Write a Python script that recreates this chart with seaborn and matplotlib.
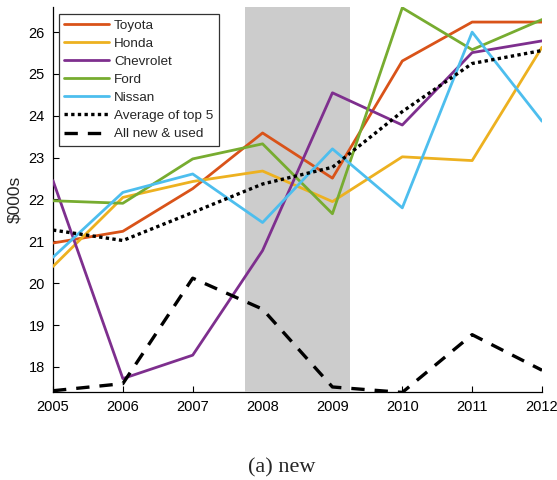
import matplotlib
matplotlib.use("Agg")
import matplotlib.pyplot as plt
import seaborn as sns
import pandas as pd

years = [2005, 2006, 2007, 2008, 2009, 2010, 2011, 2012]
toyota = [20.96, 21.24, 22.26, 23.59, 22.51, 25.31, 26.24, 26.24]
honda = [20.40, 22.05, 22.43, 22.68, 21.95, 23.02, 22.93, 25.64]
chevrolet = [22.45, 17.72, 18.28, 20.78, 24.55, 23.78, 25.51, 25.79]
ford = [21.97, 21.91, 22.97, 23.33, 21.66, 26.58, 25.58, 26.30]
nissan = [20.62, 22.17, 22.61, 21.45, 23.21, 21.80, 26.00, 23.87]
avg_top5 = [21.27, 21.02, 21.69, 22.37, 22.77, 24.10, 25.25, 25.56]
all_new_used = [17.43, 17.60, 20.12, 19.38, 17.52, 17.39, 18.77, 17.92]

series_names = ["Toyota", "Honda", "Chevrolet", "Ford", "Nissan",
                "Average of top 5", "All new & used"]
series_vals = [toyota, honda, chevrolet, ford, nissan, avg_top5, all_new_used]
colors = ["#D95319", "#EDB120", "#7E2F8E", "#77AC30", "#4DBEEE", "black", "black"]
dashes = [None, None, None, None, None, (1.0, 1.0), (4.0, 3.0)]

recession = (2007.75, 2009.25)

sns.set_theme(style="ticks")
plt.rcParams["font.family"] = ["Liberation Sans", "DejaVu Sans"]

fig = plt.figure(figsize=(5.57, 4.8), dpi=100)
ax = fig.add_axes([53/557, 1-392/480, (542-53)/557, (392-7)/480])

ax.axvspan(recession[0], recession[1], color="#CCCCCC", lw=0, zorder=2.6)

for name, vals, c, d in zip(series_names, series_vals, colors, dashes):
    df = pd.DataFrame({"year": years, "value": vals})
    sns.lineplot(data=df, x="year", y="value", ax=ax, color=c, linewidth=2.0,
                 label=name, zorder=3)
    line = ax.get_lines()[-1]
    if d is not None:
        line.set_dashes(d)
        line.set_dash_capstyle("butt")
        line.set_linewidth(2.4)

ax.set_xlim(2005, 2012)
ax.set_ylim(17.4, 26.6)
ax.set_xticks(years)
ax.set_xticklabels([str(y) for y in years])
ax.set_yticks(range(18, 27))
ax.set_xlabel("")
ax.set_ylabel("$000s", fontsize=12.5, labelpad=2)
ax.tick_params(direction="in", length=4, width=0.8, labelsize=10.5, pad=6,
               colors="black")
for s in ["top", "right"]:
    ax.spines[s].set_visible(False)
for s in ["left", "bottom"]:
    ax.spines[s].set_linewidth(0.9)
    ax.spines[s].set_color("black")
ax.yaxis.set_label_coords(-0.063, 0.5)

leg = ax.legend(loc="upper left", bbox_to_anchor=(0.012, 0.982), borderaxespad=0,
                fontsize=9.7, frameon=True, fancybox=False, framealpha=1,
                edgecolor="#333333", handlelength=3.3, handletextpad=0.4,
                labelspacing=0.42, borderpad=0.4)
leg.get_frame().set_linewidth(0.9)
leg.set_zorder(5)

fig.text(0.506, 0.025, "(a) new", ha="center", va="center",
         fontsize=16, family=["Liberation Serif", "DejaVu Serif"])

fig.savefig("out.png", dpi=100)
